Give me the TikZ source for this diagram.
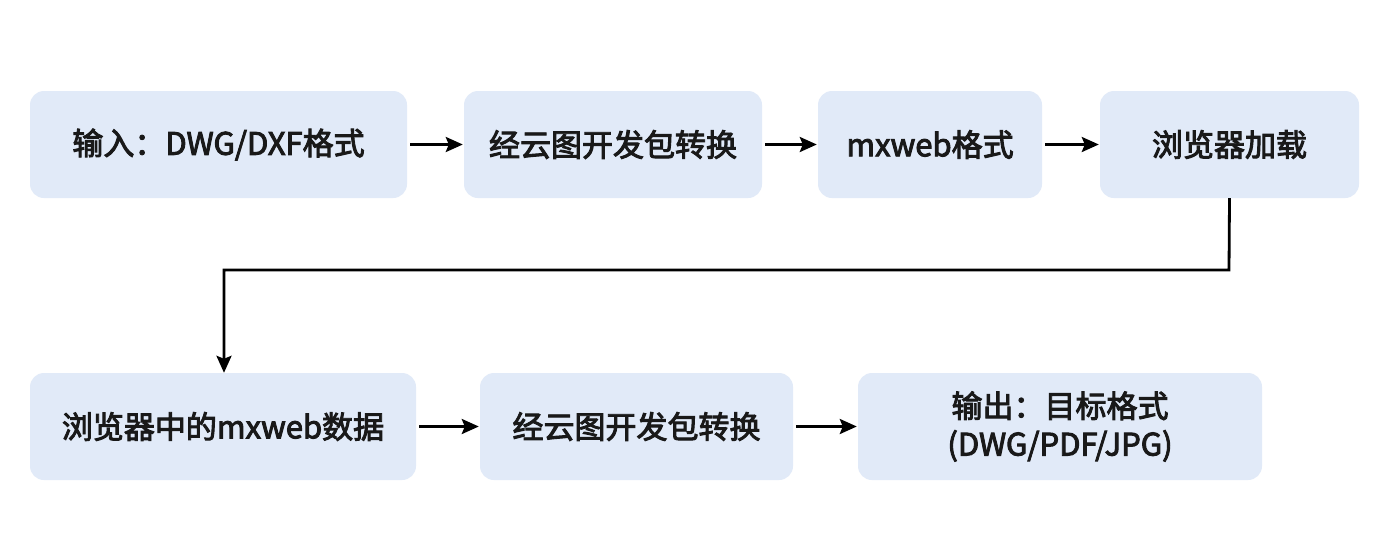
\documentclass[tikz,border=0pt]{standalone}
\usepackage{fontspec}
\setmainfont{Noto Sans CJK SC}[FakeBold=3]
\usetikzlibrary{arrows.meta}
\definecolor{boxfill}{HTML}{E1EAF8}
\tikzset{
  stepbox/.style={rectangle, rounded corners=14pt, fill=boxfill, inner sep=0pt,
    font=\fontsize{31}{38}\selectfont, text=black!90, align=center},
  conn/.style={line width=2.8pt, -{Stealth[length=17pt,width=15pt,inset=3pt]}}
}
\begin{document}
\begin{tikzpicture}[x=1pt,y=-1pt]
\useasboundingbox[fill=white] (0,0) rectangle (1386,539);
\node[stepbox, minimum width=377pt, minimum height=107pt] (b1) at (218.5,144.5) {输入：DWG/DXF格式};
\node[stepbox, minimum width=298pt, minimum height=107pt] (b2) at (613,144.5) {经云图开发包转换};
\node[stepbox, minimum width=224pt, minimum height=107pt] (b3) at (930,144.5) {mxweb格式};
\node[stepbox, minimum width=259pt, minimum height=107pt] (b4) at (1229.5,144.5) {浏览器加载};
\node[stepbox, minimum width=386pt, minimum height=107pt] (b5) at (223,426.5) {浏览器中的mxweb数据};
\node[stepbox, minimum width=313pt, minimum height=107pt] (b6) at (636.5,426.5) {经云图开发包转换};
\node[stepbox, minimum width=404pt, minimum height=107pt] (b7) at (1060,426.5) {输出：目标格式\\(DWG/PDF/JPG)};
\coordinate (c1) at (1229,270);
\coordinate (c2) at (224,270);
\draw[conn] ([xshift=3pt]b1.east) -- ([xshift=-1pt]b2.west);
\draw[conn] ([xshift=3pt]b2.east) -- ([xshift=-1pt]b3.west);
\draw[conn] ([xshift=3pt]b3.east) -- ([xshift=-1pt]b4.west);
\draw[conn] (b4.south) -- (c1) -- (c2) -- (b5.north -| c2);
\draw[conn] ([xshift=3pt]b5.east) -- ([xshift=-1pt]b6.west);
\draw[conn] ([xshift=3pt]b6.east) -- ([xshift=-1pt]b7.west);
\end{tikzpicture}
\end{document}
